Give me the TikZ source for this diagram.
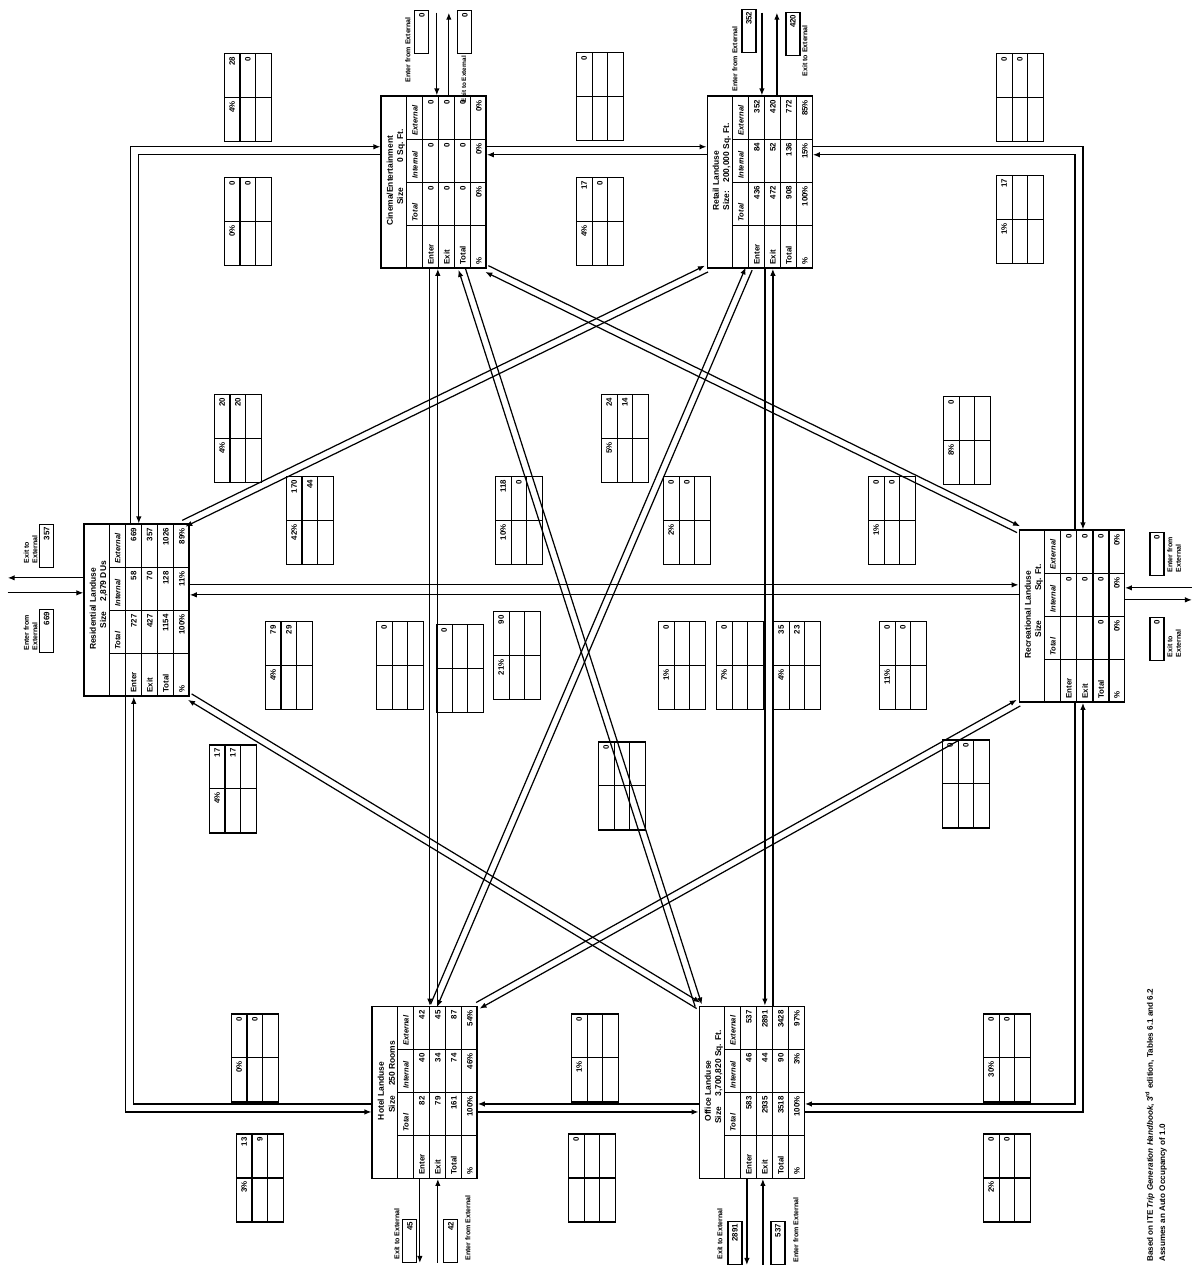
\documentclass[tikz,border=0pt]{standalone}
\usepackage{fontspec}
\setmainfont{Liberation Sans}
\usetikzlibrary{arrows.meta,calc,positioning}

\tikzset{
  tbl/.style={draw, line width=0.8pt, anchor=south west, inner sep=0pt,
    minimum width=3.44cm, minimum height=2.1cm},
  tbox/.style={draw, line width=0.7pt, inner sep=0pt,
    minimum width=1.76cm, minimum height=0.94cm},
  ebox/.style={draw, line width=0.7pt, inner sep=0.04cm,
    minimum width=0.86cm, minimum height=0.28cm, text width=0.76cm, align=right,
    font=\fontsize{4.5}{5}\selectfont\bfseries},
  val/.style={inner sep=0pt, font=\fontsize{4.5}{5}\selectfont\bfseries},
  hdr/.style={inner sep=0pt, anchor=west, font=\fontsize{4.3}{5}\selectfont\bfseries\itshape},
  ttl/.style={inner sep=0pt, font=\fontsize{4.8}{5.5}\selectfont\bfseries},
  elab/.style={inner sep=0pt, align=left, font=\fontsize{4}{4.8}\selectfont\bfseries},
  note/.style={inner sep=0pt, anchor=west, font=\fontsize{4.6}{5}\selectfont\bfseries},
  flow/.style={line width=0.7pt, -{Latex[length=1.4mm,width=1.1mm]}},
  gridline/.style={line width=0.6pt}
}

% land use table: name, lower left corner, title, size line, rows
\newcommand{\lutable}[5]{%
  \begin{scope}[shift={#2}]
    \node[tbl] (#1) at (0,0) {};
    \draw[gridline] (0,80) -- (172,80);
    \foreach \cx in {43,86,129} \draw[gridline] (\cx,0) -- (\cx,80);
    \foreach \ry in {16,32,48,64} \draw[gridline] (0,\ry) -- (172,\ry);
    \node[ttl] (#1-name) at (88,97) {#3};
    \node[ttl] (#1-size) at (102,86) {#4};
    \node[hdr] (#1-h1) at (47,72) {Total};
    \node[hdr] (#1-h2) at (90,72) {Internal};
    \node[hdr] (#1-h3) at (133,72) {External};
    \foreach \lab/\vt/\vi/\ve [count=\i] in {#5} {
      \node[val, anchor=west] (#1-l\i) at (4,72-16*\i) {\lab};
      \node[val, anchor=east] (#1-t\i) at (83,72-16*\i) {\vt};
      \node[val, anchor=east] (#1-i\i) at (126,72-16*\i) {\vi};
      \node[val, anchor=east] (#1-e\i) at (169,72-16*\i) {\ve};
    }
  \end{scope}}

% trip box between two land uses: name, centre, percent, trips, balanced
\newcommand{\tripbox}[5]{%
  \begin{scope}[shift={#2}]
    \node[tbox] (#1) at (0,0) {};
    \draw[gridline] (0,-23.5) -- (0,23.5);
    \draw[gridline] (-44,7.8) -- (44,7.8) (-44,-7.8) -- (44,-7.8);
    \node[val, anchor=east] (#1-p) at (-3,15.7) {#3};
    \node[val, anchor=east] (#1-t) at (41,15.7) {#4};
    \node[val, anchor=east] (#1-b) at (41,0) {#5};
  \end{scope}}

% pair of opposite flows between two points
\newcommand{\twoway}[2]{%
  \draw[flow] ($(#1)!0.07cm!90:(#2)$) -- ($(#2)!0.07cm!-90:(#1)$);
  \draw[flow] ($(#2)!0.07cm!90:(#1)$) -- ($(#1)!0.07cm!-90:(#2)$);}

\begin{document}
\begin{tikzpicture}
  \useasboundingbox (-23.94,0) rectangle (0,25.42);
  \fill[white] (-23.94,0) rectangle (0,25.42);
  \begin{scope}[rotate=90, x=0.02cm, y=0.02cm, transform shape]

  % Land use tables
  \lutable{res}{(574,1007)}{Residential Landuse}{Size\hspace{1.2em}2,879 DUs}
    {Enter/727/58/669, Exit/427/70/357, Total/1154/128/1026, \%/100\%/11\%/89\%}
  \lutable{hotel}{(92,719)}{Hotel Landuse}{Size\hspace{1.2em}250 Rooms}
    {Enter/82/40/42, Exit/79/34/45, Total/161/74/87, \%/100\%/46\%/54\%}
  \lutable{office}{(92,392)}{Office Landuse}{Size\hspace{1.2em}3,700,820 Sq. Ft.}
    {Enter/583/46/537, Exit/2935/44/2891, Total/3518/90/3428, \%/100\%/3\%/97\%}
  \lutable{cine}{(1002,710)}{Cinema/Entertainment}{Size\hspace{3em}0 Sq. Ft.}
    {Enter/0/0/0, Exit/0/0/0, Total/0/0/0, \%/0\%/0\%/0\%}
  \lutable{retail}{(1002,384)}{Retail Landuse}{Size:\hspace{1em}200,000 Sq. Ft.}
    {Enter/436/84/352, Exit/472/52/420, Total/908/136/772, \%/100\%/15\%/85\%}
  \lutable{rec}{(568,72)}{Recreational Landuse}{Size\hspace{3.5em}Sq. Ft.}
    {Enter//0/0, Exit//0/0, Total/0/0/0, \%/0\%/0\%/0\%}

  % Straight and square flows
  \draw[flow] ($(res.south east)+(0,59)$) -| ($(cine.north west)+(122,0)$);
  \draw[flow] ($(cine.north west)+(114,0)$) |- ($(res.south east)+(0,51)$);
  \draw[flow] ($(res.south west)+(0,64)$) -| ($(hotel.north west)+(67,0)$);
  \draw[flow] ($(hotel.north west)+(75,0)$) |- ($(res.south west)+(0,56)$);
  \draw[flow] ($(cine.south west)+(122,0)$) -- ($(retail.north west)+(122,0)$);
  \draw[flow] ($(retail.north west)+(114,0)$) -- ($(cine.south west)+(114,0)$);
  \draw[flow] ($(hotel.south west)+(67,0)$) -- ($(office.north west)+(67,0)$);
  \draw[flow] ($(office.north west)+(75,0)$) -- ($(hotel.south west)+(75,0)$);
  \draw[flow] ($(retail.south west)+(122,0)$) |- ($(rec.south east)+(0,42)$);
  \draw[flow] ($(rec.south east)+(0,50)$) -| ($(retail.south west)+(114,0)$);
  \draw[flow] ($(office.south west)+(67,0)$) |- ($(rec.south west)+(0,42)$);
  \draw[flow] ($(rec.south west)+(0,50)$) -| ($(office.south west)+(75,0)$);
  \draw[flow] ($(res.south west)+(112,0)$) -- ($(rec.north west)+(118,0)$);
  \draw[flow] ($(rec.north west)+(108,0)$) -- ($(res.south west)+(102,0)$);
  \draw[flow] ($(cine.south west)+(0,57)$) -- ($(hotel.south east)+(0,48)$);
  \draw[flow] ($(hotel.south east)+(0,40)$) -- ($(cine.south west)+(0,49)$);
  \draw[flow] ($(retail.south west)+(0,48)$) -- ($(office.south east)+(0,40)$);
  \draw[flow] ($(office.south east)+(0,32)$) -- ($(retail.south west)+(0,40)$);

  % Diagonal flows
  \coordinate (resRt) at ($(res.south east)+(0,6)$);
  \coordinate (cineOf) at ($(cine.south west)+(0,25)$);
  \coordinate (hotRt) at ($(hotel.south east)+(0,44)$);
  \coordinate (rtHot) at ($(retail.south west)+(0,64)$);
  \twoway{resRt}{retail.north west}
  \twoway{res.south west}{office.north east}
  \twoway{cine.south west}{rec.north east}
  \twoway{hotel.south east}{rec.north west}
  \twoway{cineOf}{office.north east}
  \twoway{hotRt}{rtHot}

  % External flows
  \coordinate (resOut) at (693,1189);
  \coordinate (resIn) at (678,1189);
  \draw[flow] ($(res.north west)+(119,0)$) -- (resOut);
  \draw[flow] (resIn) -- ($(res.north west)+(104,0)$);
  \node[ebox] (resX) at (725,1150) {357};
  \node[elab, anchor=south west] (resXl) at (707,1159) {Exit to\\External};
  \node[ebox] (resE) at (640,1150) {669};
  \node[elab, anchor=south west] (resEl) at (620,1159) {Enter from\\External};

  \coordinate (hotOut) at (8,777);
  \coordinate (hotIn) at (8,759);
  \draw[flow] ($(hotel.south west)+(0,58)$) -- (hotOut);
  \draw[flow] (hotIn) -- ($(hotel.south west)+(0,40)$);
  \node[ebox] (hotX) at (30,787) {45};
  \node[elab] (hotXl) at (37,800) {Exit to External};
  \node[ebox] (hotE) at (30,746) {42};
  \node[elab] (hotEl) at (43,729) {Enter from External};

  \coordinate (offOut) at (6,450);
  \coordinate (offIn) at (6,434);
  \draw[flow] ($(office.south west)+(0,58)$) -- (offOut);
  \draw[flow] (offIn) -- ($(office.south west)+(0,42)$);
  \node[ebox] (offX) at (28,462) {2891};
  \node[elab] (offXl) at (37,477) {Exit to External};
  \node[ebox] (offE) at (28,419) {537};
  \node[elab] (offEl) at (41,401) {Enter from External};

  \coordinate (recIn) at (683,5);
  \coordinate (recOut) at (671,5);
  \draw[flow] (recIn) -- ($(rec.south west)+(115,0)$);
  \draw[flow] ($(rec.south west)+(103,0)$) -- (recOut);
  \node[ebox] (recE) at (717,40) {0};
  \node[elab, anchor=north west] (recEl) at (698,30) {Enter from\\External};
  \node[ebox] (recX) at (632,40) {0};
  \node[elab, anchor=north west] (recXl) at (613,30) {Exit to\\External};

  \coordinate (cinIn) at (1258,760);
  \coordinate (cinOut) at (1258,748);
  \draw[flow] (cinIn) -- ($(cine.south east)+(0,50)$);
  \draw[flow] ($(cine.south east)+(0,38)$) -- (cinOut);
  \node[ebox] (cinE) at (1239,775) {0};
  \node[elab] (cinEl) at (1221,789) {Enter from External};
  \node[ebox] (cinX) at (1239,732) {0};
  \node[elab, anchor=east, font=\fontsize{3.6}{4}\selectfont\bfseries] (cinXl) at (1215,733) {Exit to External};

  \coordinate (rtIn) at (1258,435);
  \coordinate (rtOut) at (1258,420);
  \draw[flow] (rtIn) -- ($(retail.south east)+(0,51)$);
  \draw[flow] ($(retail.south east)+(0,36)$) -- (rtOut);
  \node[ebox] (rtE) at (1240,448) {352};
  \node[elab] (rtEl) at (1212,462) {Enter from External};
  \node[ebox] (rtX) at (1237,404) {420};
  \node[elab] (rtXl) at (1220,392) {Exit to External};

  % Trip boxes
  \tripbox{b1}{(1173,949)}{4\%}{28}{0}
  \tripbox{b2}{(1174,597)}{}{0}{}
  \tripbox{b3}{(1173,177)}{}{0}{0}
  \tripbox{b4}{(1049,949)}{0\%}{0}{0}
  \tripbox{b5}{(1049,597)}{4\%}{17}{0}
  \tripbox{b6}{(1051,177)}{1\%}{17}{}
  \tripbox{b7}{(832,959)}{4\%}{20}{20}
  \tripbox{b8}{(832,572)}{5\%}{24}{14}
  \tripbox{b9}{(830,230)}{8\%}{0}{}
  \tripbox{b10}{(750,887)}{42\%}{170}{44}
  \tripbox{b11}{(750,678)}{10\%}{118}{0}
  \tripbox{b12}{(750,510)}{2\%}{0}{0}
  \tripbox{b13}{(750,305)}{1\%}{0}{0}
  \tripbox{b14}{(605,908)}{4\%}{79}{29}
  \tripbox{b15}{(605,797)}{}{0}{}
  \tripbox{b16}{(602,737)}{}{0}{}
  \tripbox{b17}{(615,680)}{21\%}{90}{}
  \tripbox{b18}{(605,515)}{1\%}{0}{}
  \tripbox{b19}{(605,457)}{7\%}{0}{}
  \tripbox{b20}{(605,400)}{4\%}{35}{23}
  \tripbox{b21}{(605,294)}{11\%}{0}{0}
  \tripbox{b22}{(482,964)}{4\%}{17}{17}
  \tripbox{b23}{(485,575)}{}{0}{}
  \tripbox{b24}{(487,231)}{}{0}{0}
  \tripbox{b25}{(213,942)}{0\%}{0}{0}
  \tripbox{b26}{(213,602)}{1\%}{0}{}
  \tripbox{b27}{(213,190)}{30\%}{0}{0}
  \tripbox{b28}{(93,937)}{3\%}{13}{9}
  \tripbox{b29}{(93,605)}{}{0}{}
  \tripbox{b30}{(93,190)}{2\%}{0}{0}

  % Notes
  \node[note] (note1) at (9,47) {Based on ITE \textit{Trip Generation Handbook}, 3\textsuperscript{rd} edition, Tables 6.1 and 6.2};
  \node[note] (note2) at (9,34) {Assumes an Auto Occupancy of 1.0};
  \end{scope}
\end{tikzpicture}
\end{document}
